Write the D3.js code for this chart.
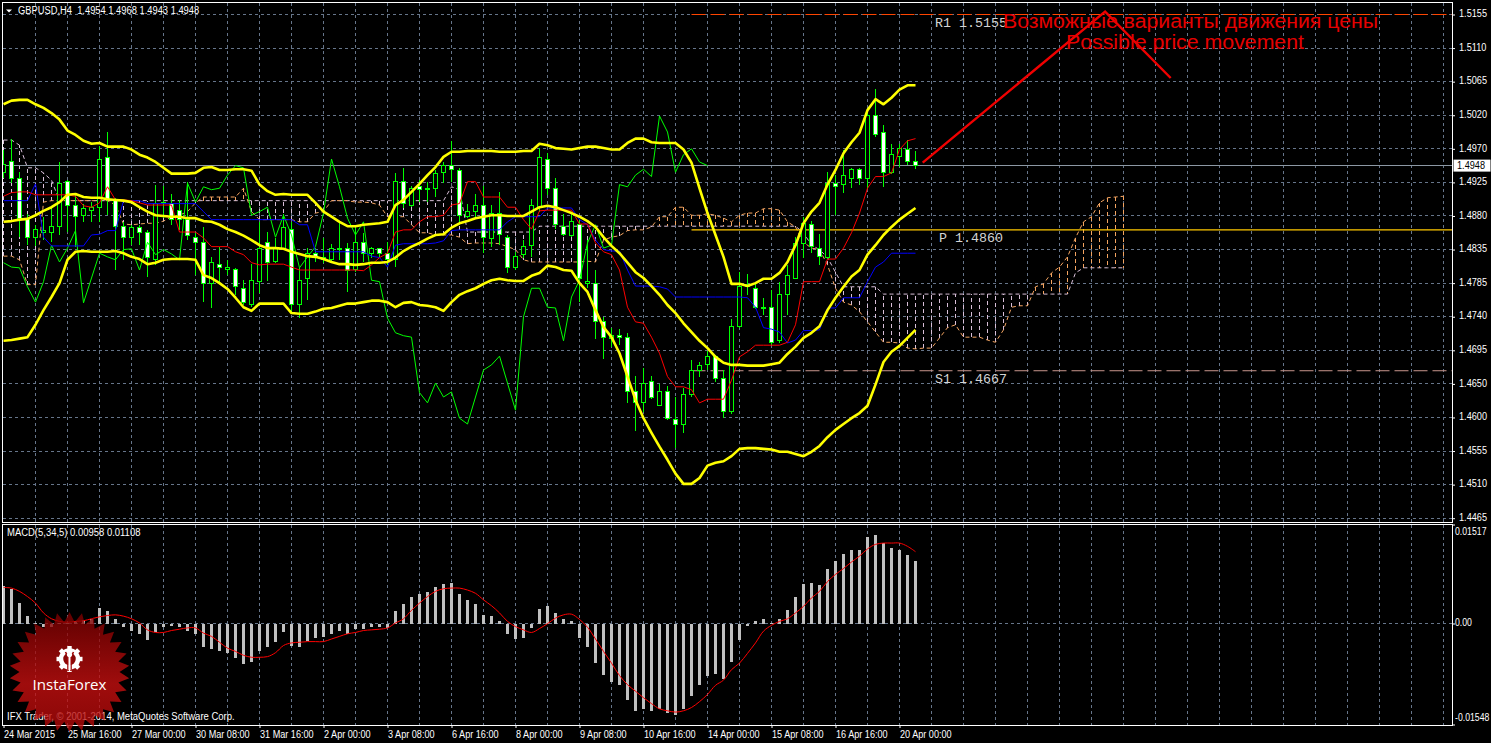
<!DOCTYPE html>
<html><head><meta charset="utf-8">
<style>html,body{margin:0;padding:0;background:#000;overflow:hidden}svg{display:block}</style>
<script src="https://cdnjs.cloudflare.com/ajax/libs/d3/7.8.5/d3.min.js"></script>
</head><body><svg id="c" width="1491" height="743"></svg>
<script>
// Prices are stored in pips (1.4948 -> 14948)
const highs=[14970,14985,14939,14882,14867,14878,14890,14953,14928,14908,14896,14898,14975,14994,14904,14871,14867,14867,14860,14922,14920,14909,14901,14926,14856,14864,14823,14837,14819,14808,14791,14813,14871,14857,14849,14882,14871,14808,14835,14835,14849,14841,14869,14842,14864,14856,14837,14835,14843,14938,14945,14920,14928,14926,14942,14953,14982,14945,14896,14909,14920,14894,14912,14853,14830,14846,14902,14972,14965,14931,14882,14885,14874,14846,14805,14741,14726,14724,14719,14660,14671,14660,14649,14646,14631,14643,14682,14679,14694,14689,14668,14738,14802,14800,14787,14767,14778,14789,14812,14850,14878,14872,14854,14939,14935,14970,14945,14945,15027,15053,15004,14978,14978,14983,14968];
const lows=[14931,14924,14850,14839,14838,14846,14843,14853,14857,14837,14871,14871,14871,14880,14805,14819,14839,14839,14796,14812,14876,14867,14860,14846,14798,14761,14753,14787,14798,14771,14757,14754,14774,14790,14815,14834,14748,14739,14764,14816,14815,14816,14819,14775,14802,14816,14822,14823,14812,14809,14890,14891,14898,14898,14905,14924,14926,14869,14876,14878,14828,14837,14839,14801,14805,14822,14823,14885,14908,14861,14852,14850,14761,14780,14711,14683,14700,14702,14623,14585,14611,14628,14619,14600,14561,14582,14631,14659,14668,14652,14602,14608,14726,14771,14752,14743,14702,14705,14743,14794,14822,14828,14812,14820,14880,14911,14917,14922,14916,14987,14919,14937,14946,14949,14943];
const opens=[14938,14953,14930,14875,14849,14856,14857,14865,14926,14893,14879,14887,14890,14959,14900,14865,14849,14863,14857,14820,14896,14896,14887,14874,14849,14843,14786,14813,14806,14806,14780,14758,14789,14843,14816,14835,14861,14758,14793,14828,14822,14819,14833,14834,14806,14843,14827,14834,14828,14819,14926,14894,14919,14915,14916,14938,14948,14941,14878,14885,14893,14848,14883,14850,14808,14826,14838,14891,14957,14916,14864,14852,14868,14786,14787,14734,14711,14715,14713,14638,14623,14652,14620,14639,14600,14593,14634,14667,14675,14686,14657,14611,14728,14782,14780,14752,14753,14708,14772,14794,14841,14868,14834,14822,14924,14922,14931,14942,14931,15016,14993,14938,14960,14970,14954];
const closes=[14950,14930,14875,14849,14860,14859,14865,14924,14894,14878,14889,14891,14957,14901,14865,14849,14863,14857,14822,14896,14898,14874,14874,14852,14843,14786,14815,14808,14808,14782,14761,14790,14835,14815,14834,14863,14758,14791,14828,14822,14819,14834,14834,14805,14843,14827,14834,14827,14820,14926,14896,14917,14915,14917,14937,14948,14943,14880,14885,14893,14850,14882,14853,14808,14824,14837,14894,14959,14916,14867,14853,14871,14794,14789,14734,14713,14715,14713,14638,14623,14650,14631,14638,14601,14594,14634,14667,14674,14687,14656,14611,14728,14782,14785,14754,14754,14706,14772,14797,14841,14869,14837,14824,14923,14920,14934,14943,14931,15016,14991,14938,14963,14971,14953,14948];
const bandUpper=[15032,15037,15038,15038,15032,15027,15020,15011,14996,14990,14982,14978,14979,14974,14974,14974,14970,14963,14959,14953,14945,14937,14937,14937,14938,14945,14946,14942,14942,14943,14943,14941,14922,14913,14908,14909,14908,14908,14908,14897,14885,14878,14871,14865,14865,14867,14868,14869,14871,14894,14901,14912,14923,14935,14946,14960,14967,14967,14968,14968,14968,14968,14967,14967,14967,14968,14968,14978,14976,14972,14971,14970,14972,14974,14974,14972,14970,14970,14979,14985,14985,14980,14979,14979,14979,14970,14952,14917,14883,14853,14823,14786,14786,14783,14787,14793,14793,14801,14816,14839,14869,14885,14897,14922,14942,14965,14980,14993,15024,15039,15032,15041,15052,15058,15058];
const bandMiddle=[14871,14872,14874,14875,14880,14886,14891,14898,14908,14909,14905,14904,14904,14902,14901,14900,14898,14891,14885,14880,14879,14878,14878,14876,14876,14872,14871,14867,14861,14857,14852,14846,14839,14835,14835,14834,14830,14827,14824,14823,14820,14816,14813,14813,14812,14813,14815,14815,14816,14822,14831,14837,14842,14848,14853,14854,14863,14869,14872,14876,14878,14880,14880,14879,14879,14879,14885,14891,14893,14891,14887,14883,14878,14872,14864,14850,14838,14828,14815,14802,14794,14783,14771,14757,14746,14732,14720,14708,14698,14686,14678,14675,14675,14674,14674,14674,14676,14678,14690,14700,14712,14719,14728,14750,14767,14782,14796,14805,14826,14839,14853,14864,14874,14882,14890];
const bandLower=[14708,14709,14711,14713,14730,14750,14768,14787,14819,14830,14831,14830,14830,14830,14831,14828,14823,14820,14813,14815,14819,14820,14820,14820,14819,14798,14794,14787,14779,14767,14754,14749,14759,14759,14759,14759,14746,14745,14745,14748,14752,14753,14756,14759,14759,14761,14763,14763,14761,14754,14760,14761,14757,14756,14754,14749,14761,14771,14776,14780,14786,14791,14793,14791,14790,14790,14797,14801,14811,14809,14805,14804,14787,14775,14750,14727,14713,14691,14659,14627,14602,14582,14563,14545,14526,14512,14512,14520,14537,14541,14543,14550,14560,14561,14561,14560,14559,14556,14556,14553,14550,14556,14564,14576,14586,14594,14602,14609,14619,14648,14679,14693,14701,14712,14723];
const tenkan=[14906,14911,14912,14912,14908,14908,14908,14908,14908,14906,14893,14891,14897,14919,14901,14901,14900,14897,14894,14894,14894,14894,14857,14857,14857,14849,14837,14837,14837,14830,14826,14815,14812,14813,14813,14813,14809,14805,14805,14805,14805,14805,14805,14805,14805,14804,14812,14822,14828,14857,14860,14860,14871,14878,14878,14880,14894,14896,14926,14926,14905,14905,14905,14891,14891,14874,14861,14886,14887,14887,14887,14887,14868,14868,14842,14830,14826,14805,14754,14734,14732,14713,14691,14659,14645,14645,14641,14623,14628,14628,14628,14654,14686,14693,14702,14702,14702,14702,14706,14730,14789,14789,14789,14820,14820,14835,14856,14883,14917,14933,14933,14938,14970,14982,14985];
const kijun=[14900,14900,14900,14900,14923,14850,14838,14838,14838,14838,14838,14853,14854,14859,14859,14900,14900,14900,14896,14896,14896,14896,14896,14896,14896,14885,14874,14874,14874,14874,14874,14874,14874,14874,14874,14874,14874,14867,14867,14830,14830,14830,14830,14830,14830,14830,14824,14822,14809,14839,14841,14841,14841,14841,14842,14845,14859,14860,14860,14860,14860,14860,14860,14871,14878,14878,14878,14878,14890,14890,14890,14890,14874,14867,14846,14833,14831,14831,14805,14783,14783,14783,14782,14779,14768,14768,14768,14768,14768,14768,14768,14768,14768,14767,14754,14726,14724,14720,14705,14709,14722,14722,14723,14753,14753,14767,14767,14767,14789,14809,14816,14828,14828,14828,14828];
const chikou=[14815,14809,14808,14782,14761,14789,14839,14816,14835,14859,14760,14794,14828,14823,14819,14833,14834,14805,14843,14826,14833,14827,14819,14924,14898,14919,14915,14917,14935,14948,14945,14880,14885,14891,14850,14880,14853,14808,14823,14837,14883,14957,14919,14876,14853,14871,14791,14789,14739,14719,14715,14713,14637,14623,14650,14631,14638,14602,14594,14631,14668,14675,14687,14650,14613,14741,14780,14780,14754,14753,14708,14768,14791,14842,14867,14835,14839,14922,14919,14935,14943,14933,15016,14994,14939,14963,14971,14953,14948];
const spanA=[14824,14824,14819,14785,14785,14898,14900,14900,14900,14900,14900,14900,14900,14900,14894,14868,14867,14868,14869,14869,14872,14878,14880,14885,14897,14905,14905,14905,14905,14905,14917,14885,14874,14874,14874,14874,14874,14871,14871,14883,14885,14900,14900,14900,14898,14898,14897,14894,14878,14878,14878,14867,14856,14856,14853,14853,14853,14850,14841,14842,14842,14842,14841,14837,14833,14819,14816,14816,14816,14816,14816,14816,14816,14817,14816,14846,14850,14852,14859,14860,14860,14864,14878,14878,14891,14891,14880,14880,14882,14880,14876,14871,14880,14883,14883,14889,14889,14887,14871,14864,14843,14835,14833,14812,14780,14761,14757,14748,14734,14720,14706,14706,14705,14698,14697,14698,14698,14712,14726,14730,14713,14713,14713,14709,14706,14723,14754,14756,14756,14782,14786,14801,14809,14823,14849,14871,14878,14897,14904,14905,14906];
const spanB=[14983,14983,14976,14945,14945,14938,14928,14900,14900,14900,14900,14900,14900,14900,14900,14900,14900,14900,14900,14900,14900,14900,14900,14900,14900,14900,14900,14900,14900,14900,14900,14900,14900,14900,14900,14900,14900,14900,14900,14900,14900,14900,14900,14900,14900,14900,14900,14900,14900,14900,14900,14900,14900,14900,14900,14900,14919,14915,14857,14857,14857,14857,14857,14857,14857,14857,14857,14865,14865,14865,14865,14865,14865,14865,14865,14865,14865,14865,14865,14865,14865,14865,14865,14865,14865,14865,14865,14865,14865,14865,14865,14865,14865,14865,14865,14865,14865,14865,14865,14865,14856,14839,14833,14822,14802,14782,14782,14782,14782,14782,14772,14772,14772,14772,14772,14772,14772,14772,14772,14772,14772,14772,14772,14772,14772,14772,14772,14772,14772,14772,14772,14772,14772,14772,14801,14808,14808,14808,14808,14808,14808];
const macdHist=[.0058,.0053,.0032,.0013,.00015,-.0004,-.0005,.0001,.0002,.0005,.0006,.0007,.00245,.002,.0008,-.0005,-.001,-.0015,-.0025,-.0012,-.00046,-.00036,-.00046,-.001,-.0016,-.0036,-.0039,-.0042,-.0044,-.0052,-.0061,-.0058,-.0041,-.0036,-.0027,-.0013,-.0033,-.0036,-.0026,-.0022,-.002,-.0015,-.001,-.0015,-.0007,-.0007,-.0005,-.0005,-.0006,.002,.003,.0041,.0046,.0049,.0056,.0062,.0063,.0046,.0036,.003,.0014,.0013,.0005,-.0015,-.0023,-.0022,-.0006,.0023,.0028,.0017,.0007,.0005,-.0021,-.0036,-.006,-.0078,-.0089,-.0093,-.0116,-.0133,-.0131,-.0134,-.0131,-.0137,-.014,-.013,-.0111,-.0094,-.008,-.0076,-.0085,-.0058,-.0024,-.00025,.00046,.0008,.0001,.0008,.0022,.0042,.0062,.0063,.006,.0085,.0097,.0108,.0114,.0114,.0134,.0137,.0124,.0117,.0114,.0105,.00958];
const macdSignal=[.0056,.0055,.005,.0042,.0032,.0017,.0008,.0004,.00026,.0004,.0005,.0008,.0011,.0013,.0014,.0012,.0008,.00015,-.0009,-.0013,-.0013,-.001,-.0008,-.0006,-.0006,-.0014,-.0019,-.0028,-.0037,-.0042,-.0048,-.0051,-.0051,-.005,-.0044,-.0033,-.0029,-.0028,-.0027,-.0027,-.0027,-.0023,-.0019,-.0015,-.0013,-.001,-.0009,-.0008,-.0006,.00015,.0008,.0021,.0032,.0042,.005,.0054,.0055,.0055,.0052,.0047,.0037,.0028,.0017,.0004,-.0004,-.0009,-.0013,-.0007,.00005,.0009,.0014,.0015,.0007,-.0005,-.0023,-.0042,-.006,-.0079,-.0093,-.0103,-.0113,-.0122,-.013,-.0133,-.0135,-.0133,-.0128,-.0119,-.0108,-.0094,-.0086,-.007,-.006,-.0045,-.0029,-.0011,-.0002,.0004,.0008,.0017,.0027,.004,.005,.0065,.0076,.0085,.0095,.0104,.0115,.0122,.0124,.0124,.0124,.0119,.01108];
const priceTicks=[1.5155,1.5109,1.5063,1.5017,1.4971,1.4925,1.4879,1.4833,1.4787,1.4741,1.4695,1.4649,1.4603,1.4557,1.4511,1.4465];
const priceLabels=["1.5155","1.5110","1.5065","1.5020","1.4970","1.4925","1.4880","1.4835","1.4785","1.4740","1.4695","1.4650","1.4600","1.4555","1.4510","1.4465"];
const timeLabels=["24 Mar 2015","25 Mar 16:00","27 Mar 00:00","30 Mar 08:00","31 Mar 16:00","2 Apr 00:00","3 Apr 08:00","6 Apr 16:00","8 Apr 00:00","9 Apr 08:00","10 Apr 16:00","14 Apr 00:00","15 Apr 08:00","16 Apr 16:00","20 Apr 00:00"];
const levels=[{name:"R1 1.5155",value:1.5155,color:"#ff4500",dash:"14,5",lx:935,dy:8},{name:"P 1.4860",value:1.4860,color:"#ffc800",dash:null,lx:939,dy:8},{name:"S1 1.4667",value:1.4667,color:"#c8968c",dash:"14,5",lx:935,dy:8}];
const forecastIdx=[114.9,137.7,145.9];
const forecastVal=[14952,15159,15068];
const currentPrice=1.4948;

const svg=d3.select("#c");
const L=2.5,R=1452,T=2.5,B=522.5,T2=524.5,B2=725;
const P=v=>v/10000;
const x=d3.scaleLinear().domain([0,180]).range([3.5,1443.5]);
const y=d3.scaleLinear().domain([1.4465,1.5155]).range([518.2,14.5]);
const ym=d3.scaleLinear().domain([-0.01548,0.01517]).range([725,525]);
const GRID="#66758a",UI="Liberation Sans, Arial, sans-serif";

// narrow a 10px label to the reference's text width, keeping its height
const fit=(sel,ratio)=>sel.attr("font-family",UI).attr("font-size",10)
  .each(function(){const n=this;n.setAttribute("textLength",(n.getComputedTextLength()*ratio).toFixed(1));n.setAttribute("lengthAdjust","spacingAndGlyphs");});

const defs=svg.append("defs");
defs.append("clipPath").attr("id","cm").append("rect").attr("x",L).attr("y",T).attr("width",R-L).attr("height",B-T);
defs.append("clipPath").attr("id","cs").append("rect").attr("x",L).attr("y",T2).attr("width",R-L).attr("height",B2-T2);
const lg=defs.append("linearGradient").attr("id","seal").attr("x1",0).attr("x2",0).attr("y1",0).attr("y2",1);
lg.append("stop").attr("offset","0%").attr("stop-color","#7c0000");
lg.append("stop").attr("offset","60%").attr("stop-color","#cc1010");
lg.append("stop").attr("offset","100%").attr("stop-color","#b00808");

svg.append("rect").attr("width",1491).attr("height",743).attr("fill","#000");

const main=svg.append("g").attr("clip-path","url(#cm)");
const sub=svg.append("g").attr("clip-path","url(#cs)");

// grid
const vGrid=d3.range(4,181,4);
[[main,T,B],[sub,T2,B2]].forEach(([g,a,b])=>{
  g.append("g").selectAll("line").data(vGrid).join("line")
   .attr("x1",d=>x(d)).attr("x2",d=>x(d)).attr("y1",a).attr("y2",b)
   .attr("stroke",GRID).attr("stroke-dasharray","3,3").attr("shape-rendering","crispEdges");
});
main.append("g").selectAll("line").data(priceTicks).join("line")
  .attr("x1",L).attr("x2",R).attr("y1",d=>y(d)).attr("y2",d=>y(d))
  .attr("stroke",GRID).attr("stroke-dasharray","3,3").attr("shape-rendering","crispEdges");
sub.append("line").attr("x1",L).attr("x2",R).attr("y1",ym(0)).attr("y2",ym(0))
  .attr("stroke",GRID).attr("stroke-dasharray","3,3").attr("shape-rendering","crispEdges");

// ichimoku cloud
const A="#f4a460",Bc="#d8bfd8";
main.append("g").selectAll("line").data(spanA.map((a,i)=>({i,a,b:spanB[i]}))).join("line")
  .attr("x1",d=>x(d.i)).attr("x2",d=>x(d.i))
  .attr("y1",d=>y(P(d.a))).attr("y2",d=>y(P(d.b)))
  .attr("stroke",d=>d.a>d.b?A:Bc).attr("stroke-dasharray","4,3").attr("stroke-width",1).attr("shape-rendering","crispEdges");
const priceLine=d3.line().x((d,i)=>x(i)).y(d=>y(P(d)));
main.append("path").attr("d",priceLine(spanB)).attr("fill","none").attr("stroke",Bc).attr("stroke-dasharray","4,3");
main.append("path").attr("d",priceLine(spanA)).attr("fill","none").attr("stroke",A).attr("stroke-dasharray","4,3");

// price levels and current price
main.append("line").attr("x1",L).attr("x2",R).attr("y1",y(currentPrice)).attr("y2",y(currentPrice)).attr("stroke","#8c98a4").attr("shape-rendering","crispEdges");
const lvlStart=x(86);
levels.forEach(l=>{
  const s=main.append("line").attr("x1",lvlStart).attr("x2",R).attr("y1",y(l.value)).attr("y2",y(l.value)).attr("stroke",l.color).attr("stroke-width",l.dash?1:1.4);
  if(l.dash)s.attr("stroke-dasharray",l.dash);
  main.append("text").attr("x",l.lx).attr("y",y(l.value)+l.dy+4).text(l.name)
    .attr("font-family","Liberation Mono, monospace").attr("font-size",13.33).attr("fill","#d4d4d4");
});

// candles
const LIME="#00ff00";
const cg=main.append("g");
cg.selectAll("line").data(highs.map((h,i)=>({i,h,l:lows[i]}))).join("line")
  .attr("x1",d=>x(d.i)).attr("x2",d=>x(d.i)).attr("y1",d=>y(P(d.h))).attr("y2",d=>y(P(d.l)))
  .attr("stroke",LIME).attr("shape-rendering","crispEdges");
cg.selectAll("rect").data(opens.map((o,i)=>({i,o,c:closes[i]}))).join("rect")
  .attr("x",d=>x(d.i)-2).attr("width",4)
  .attr("y",d=>y(P(Math.max(d.o,d.c))))
  .attr("height",d=>Math.max(0.5,y(P(Math.min(d.o,d.c)))-y(P(Math.max(d.o,d.c)))))
  .attr("fill",d=>d.c<d.o?"#fff":"#000").attr("stroke",LIME).attr("shape-rendering","crispEdges");

// indicators
main.append("path").attr("d",priceLine(chikou)).attr("fill","none").attr("stroke",LIME);
main.append("path").attr("d",priceLine(kijun)).attr("fill","none").attr("stroke","#0000ff");
main.append("path").attr("d",priceLine(tenkan)).attr("fill","none").attr("stroke","#ff0000");
[bandUpper,bandMiddle,bandLower].forEach(s=>main.append("path").attr("d",priceLine(s)).attr("fill","none").attr("stroke","#ffff00").attr("stroke-width",2.6).attr("stroke-linejoin","round"));

// forecast path
main.append("path").attr("d",d3.line().x((d,i)=>x(forecastIdx[i])).y(d=>y(P(d)))(forecastVal)).attr("fill","none").attr("stroke","#f00000").attr("stroke-width",2.4);

// annotation
const note=(t,cx,cy,len)=>svg.append("text").attr("x",cx).attr("y",cy).attr("text-anchor","middle").text(t)
  .attr("font-family",UI).attr("font-size",20).attr("fill","#e60000").attr("textLength",len).attr("lengthAdjust","spacingAndGlyphs");
note("Возможные варианты движения цены",1190.5,28,375);
note("Possible price movement",1185,49,238);

// MACD
sub.append("g").selectAll("rect").data(macdHist.map((v,i)=>({i,v}))).join("rect")
  .attr("x",d=>x(d.i)-1.5).attr("width",3)
  .attr("y",d=>Math.min(ym(d.v),ym(0))).attr("height",d=>Math.abs(ym(d.v)-ym(0)))
  .attr("fill","#c0c0c0").attr("shape-rendering","crispEdges");
sub.append("path").attr("d",d3.line().x((d,i)=>x(i)).y(d=>ym(d)).curve(d3.curveCatmullRom)(macdSignal)).attr("fill","none").attr("stroke","#ff0000");

// frames
[[L,T,R-L,B-T],[L,T2,R-L,B2-T2]].forEach(r=>svg.append("rect").attr("x",r[0]).attr("y",r[1]).attr("width",r[2]).attr("height",r[3]).attr("fill","none").attr("stroke","#fff").attr("shape-rendering","crispEdges"));

// axes
const yAxis=d3.axisRight(y).tickValues(priceTicks).tickFormat((d,i)=>priceLabels[i]).tickSize(3).tickPadding(4);
const yG=svg.append("g").attr("transform",`translate(${R},0)`).call(yAxis);
yG.select(".domain").remove();yG.selectAll("line").attr("stroke","#fff");
fit(yG.selectAll("text").attr("fill","#fff").attr("dy","0.22em"),.915);

const mTicks=[0.01517,0,-0.01548],mLabels=["0.01517","0.00","-0.01548"],mOff=[7,-1,-7];
mTicks.forEach((v,i)=>{
  svg.append("line").attr("x1",R).attr("x2",R+3).attr("y1",ym(v)).attr("y2",ym(v)).attr("stroke","#fff");
  fit(svg.append("text").attr("x",R+3).attr("y",ym(v)+mOff[i]).attr("dy","0.32em").attr("fill","#fff").text(mLabels[i]),.87);
});
const tickIdx=timeLabels.map((d,i)=>i*8);
const xAxis=d3.axisBottom(x).tickValues(tickIdx).tickFormat((d,i)=>timeLabels[i]).tickSize(3).tickPadding(3);
const xG=svg.append("g").attr("transform",`translate(0,${B2})`).call(xAxis);
xG.select(".domain").remove();xG.selectAll("line").attr("stroke","#fff");
fit(xG.selectAll("text").attr("fill","#fff").attr("text-anchor","start").attr("x",0),.91);

// current price tag
svg.append("rect").attr("x",R+1.5).attr("y",y(currentPrice)-6).attr("width",37).attr("height",12).attr("fill","#fff");
fit(svg.append("text").attr("x",R+5).attr("y",y(currentPrice)).attr("dy","0.34em").attr("fill","#000").text("1.4948"),.915);

// headers
svg.append("path").attr("d","M6,9.5L12,9.5L9,12.5Z").attr("fill","#fff");
const hd=(t,xp,yp,r)=>{const e=svg.append("text").attr("x",xp).attr("y",yp).attr("dy","0.34em").attr("fill","#fff").style("white-space","pre").text(t);fit(e,r);};
hd("GBPUSD,H4  1.4954 1.4968 1.4943 1.4948",18,10.5,.934);
hd("MACD(5,34,5) 0.00958 0.01108",7,533,.946);
hd("IFX Trader, © 2001-2014, MetaQuotes Software Corp.",7,717,.95);

// InstaForex seal
const seal=svg.append("g").attr("transform","translate(69.5,672)");
const teeth=30;
const sealPts=d3.range(teeth*2).map(i=>[i*Math.PI/teeth,i%2?50:60]);
seal.append("path").attr("d",d3.lineRadial().curve(d3.curveLinearClosed)(sealPts)).attr("fill","url(#seal)").attr("opacity",.78);
const gear=seal.append("g").attr("transform","translate(0,-13)");
d3.range(8).forEach(i=>gear.append("rect").attr("x",-2.2).attr("y",-13).attr("width",4.4).attr("height",5).attr("fill","#fff").attr("transform",`rotate(${i*45})`));
gear.append("circle").attr("r",8.5).attr("fill","none").attr("stroke","#fff").attr("stroke-width",4.5);
gear.append("path").attr("d","M-4,-7L-1.5,-2L-1.5,12M4,-7L1.5,-2L1.5,12").attr("fill","none").attr("stroke","#a00808").attr("stroke-width",1.6);
gear.append("circle").attr("cy",-4.5).attr("r",2.6).attr("fill","#fff");
gear.append("rect").attr("x",-1).attr("y",-3).attr("width",2).attr("height",14).attr("fill","#fff");
seal.append("text").attr("x",0).attr("y",18).attr("text-anchor","middle").text("InstaForex").attr("font-family","Open Sans, sans-serif").attr("font-size",15).attr("fill","#fff").attr("textLength",74).attr("lengthAdjust","spacingAndGlyphs");
</script></body></html>
